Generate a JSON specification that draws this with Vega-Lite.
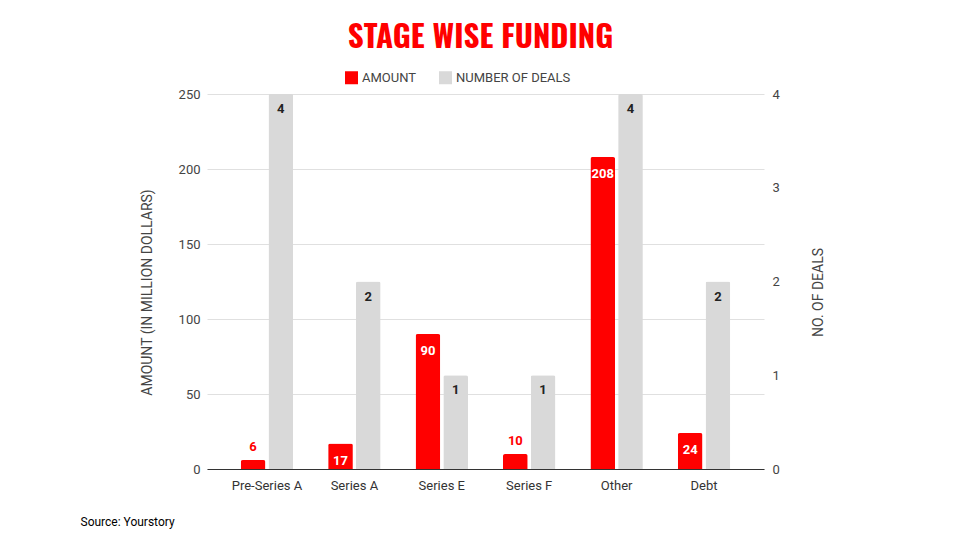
{
  "$schema": "https://vega.github.io/schema/vega-lite/v6.json",
  "width": 557,
  "height": 375,
  "autosize": {"type": "none"},
  "padding": {"left": 207, "top": 94, "right": 196, "bottom": 71},
  "background": "white",
  "config": {
    "view": {"stroke": null},
    "font": "Roboto",
    "axis": {"labelFont": "Roboto", "titleFont": "Roboto"}
  },
  "title": {
    "text": "STAGE WISE FUNDING",
    "font": "Oswald, Liberation Sans Narrow, DejaVu Sans Condensed, sans-serif",
    "fontSize": 31,
    "fontWeight": "bold",
    "color": "#ff0000",
    "anchor": "middle",
    "dx": -5,
    "offset": 16
  },
  "data": {
    "values": [
      {"stage": "Pre-Series A", "series": "AMOUNT", "value": 6},
      {"stage": "Series A", "series": "AMOUNT", "value": 17},
      {"stage": "Series E", "series": "AMOUNT", "value": 90},
      {"stage": "Series F", "series": "AMOUNT", "value": 10},
      {"stage": "Other", "series": "AMOUNT", "value": 208},
      {"stage": "Debt", "series": "AMOUNT", "value": 24},
      {"stage": "Pre-Series A", "series": "NUMBER OF DEALS", "value": 4},
      {"stage": "Series A", "series": "NUMBER OF DEALS", "value": 2},
      {"stage": "Series E", "series": "NUMBER OF DEALS", "value": 1},
      {"stage": "Series F", "series": "NUMBER OF DEALS", "value": 1},
      {"stage": "Other", "series": "NUMBER OF DEALS", "value": 4},
      {"stage": "Debt", "series": "NUMBER OF DEALS", "value": 2}
    ]
  },
  "encoding": {
    "x": {
      "field": "stage",
      "type": "nominal",
      "sort": ["Pre-Series A", "Series A", "Series E", "Series F", "Other", "Debt"],
      "scale": {"paddingInner": 0.4, "paddingOuter": 0.386},
      "axis": {
        "labelAngle": 0,
        "labelFontSize": 13,
        "labelColor": "#333",
        "labelPadding": 10,
        "ticks": false,
        "domainColor": "#333",
        "domainWidth": 1,
        "title": "Source: Yourstory",
        "titleFontSize": 12,
        "titleFontWeight": "normal",
        "titleColor": "#000",
        "titleAnchor": "start",
        "titleAlign": "left",
        "titleBaseline": "middle",
        "titleX": -127,
        "titleY": 52
      }
    },
    "xOffset": {
      "field": "series",
      "type": "nominal",
      "scale": {"domain": ["AMOUNT", "NUMBER OF DEALS"], "paddingInner": 0.11}
    }
  },
  "layer": [
    {
      "transform": [{"filter": "datum.series === 'AMOUNT'"}],
      "encoding": {
        "y": {
          "field": "value",
          "type": "quantitative",
          "scale": {"domain": [0, 250], "nice": false},
          "axis": {
            "orient": "left",
            "values": [0, 50, 100, 150, 200, 250],
            "title": "AMOUNT (IN MILLION DOLLARS)",
            "titleFontSize": 14,
            "titleFontWeight": "normal",
            "titleColor": "#444",
            "titlePadding": 24,
            "titleY": 198,
            "labelFontSize": 13,
            "labelColor": "#444",
            "labelPadding": 7,
            "ticks": false,
            "domain": false,
            "grid": true,
            "gridColor": "#e0e0e0",
            "gridWidth": 1
          }
        }
      },
      "layer": [
        {
          "mark": {"type": "bar", "cornerRadiusTopLeft": 2, "cornerRadiusTopRight": 2},
          "encoding": {
            "color": {
              "field": "series",
              "type": "nominal",
              "scale": {"domain": ["AMOUNT", "NUMBER OF DEALS"], "range": ["#ff0000", "#d9d9d9"]},
              "legend": {
                "orient": "none",
                "legendX": 138,
                "legendY": -23,
                "direction": "horizontal",
                "title": null,
                "symbolType": "square",
                "symbolSize": 169,
                "symbolStrokeWidth": 0,
                "labelFontSize": 13,
                "labelColor": "#444",
                "columnPadding": 22
              }
            }
          }
        },
        {
          "transform": [{"filter": "datum.value >= 15"}],
          "mark": {"type": "text", "baseline": "top", "dy": 11, "color": "white", "fontWeight": "bold", "fontSize": 13},
          "encoding": {"text": {"field": "value", "type": "quantitative"}}
        },
        {
          "transform": [{"filter": "datum.value < 15"}],
          "mark": {"type": "text", "baseline": "bottom", "dy": -6, "color": "#ff0000", "fontWeight": "bold", "fontSize": 13},
          "encoding": {"text": {"field": "value", "type": "quantitative"}}
        }
      ]
    },
    {
      "transform": [{"filter": "datum.series === 'NUMBER OF DEALS'"}],
      "encoding": {
        "y": {
          "field": "value",
          "type": "quantitative",
          "scale": {"domain": [0, 4], "nice": false},
          "axis": {
            "orient": "right",
            "values": [0, 1, 2, 3, 4],
            "format": "d",
            "title": "NO. OF DEALS",
            "titleFontSize": 14,
            "titleFontWeight": "normal",
            "titleColor": "#444",
            "titlePadding": 46,
            "titleAngle": 270,
            "titleY": 198,
            "labelFontSize": 13,
            "labelColor": "#444",
            "labelPadding": 8,
            "ticks": false,
            "domain": false,
            "grid": false
          }
        }
      },
      "layer": [
        {
          "mark": {"type": "bar", "cornerRadiusTopLeft": 2, "cornerRadiusTopRight": 2},
          "encoding": {
            "color": {
              "field": "series",
              "type": "nominal",
              "scale": {"domain": ["AMOUNT", "NUMBER OF DEALS"], "range": ["#ff0000", "#d9d9d9"]}
            }
          }
        },
        {
          "mark": {"type": "text", "baseline": "top", "dy": 9, "color": "#222", "fontWeight": "bold", "fontSize": 13},
          "encoding": {"text": {"field": "value", "type": "quantitative"}}
        }
      ]
    }
  ],
  "resolve": {"scale": {"y": "independent"}}
}
